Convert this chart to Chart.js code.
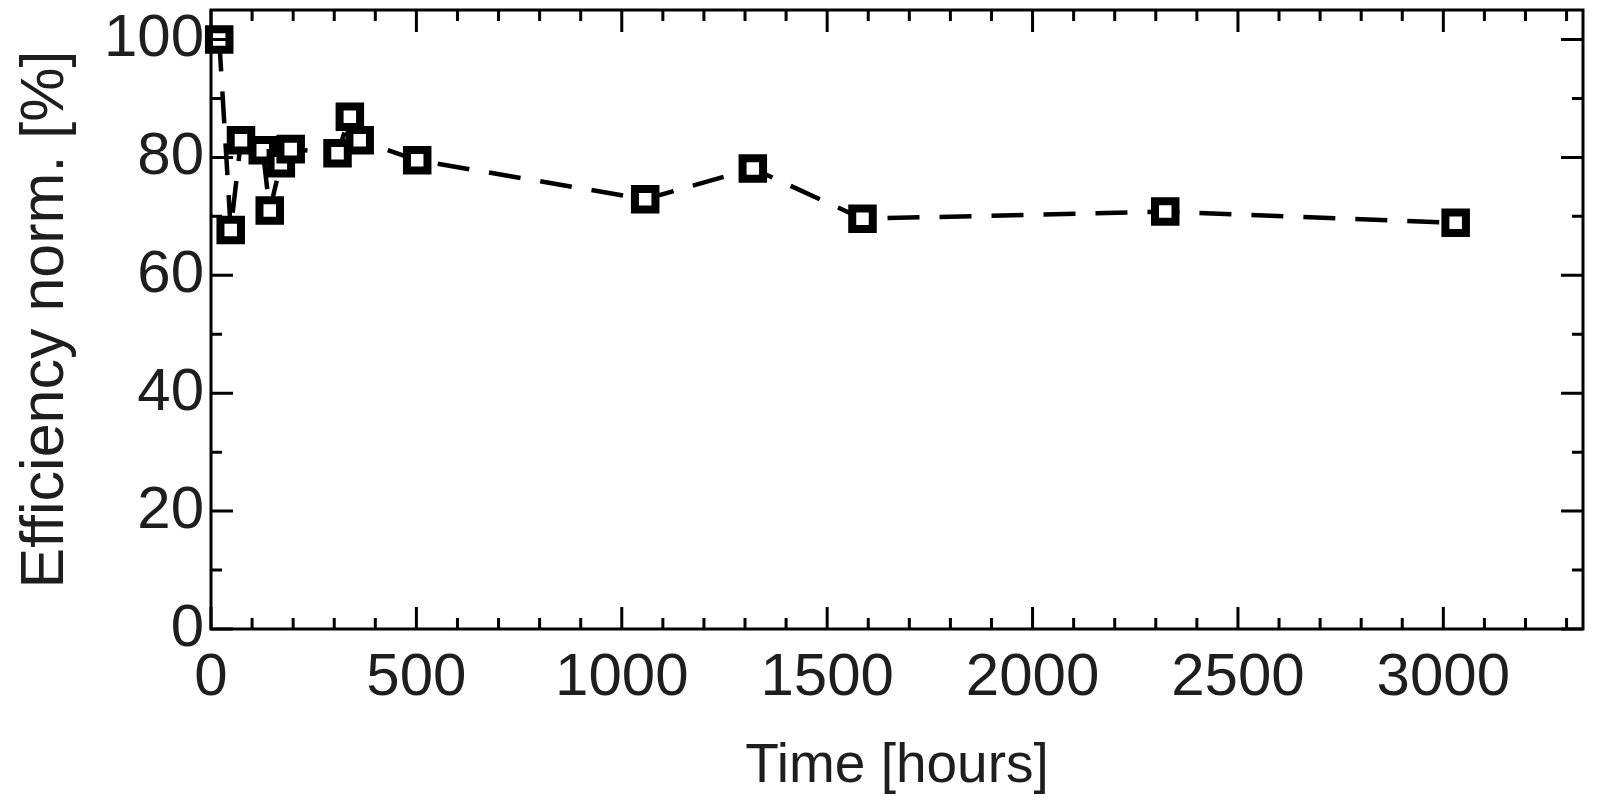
<!DOCTYPE html>
<html><head><meta charset="utf-8">
<script src="https://cdn.jsdelivr.net/npm/chart.js@4"></script>
<style>html,body{margin:0;padding:0;background:#fff}#wrap{width:1612px;height:800px}</style>
</head><body><div id="wrap"><canvas id="c" width="1612" height="800"></canvas></div>
<script>
const timeHours = [20, 48, 73, 126, 143, 170, 194, 308, 338, 362, 502, 1057, 1319, 1586, 2323, 3030];
const efficiency = [100, 67.7, 82.9, 81.2, 71, 79, 81.4, 80.7, 86.9, 82.9, 79.5, 72.9, 78.1, 69.6, 70.8, 68.9];
const xMajorTicks = [0, 500, 1000, 1500, 2000, 2500, 3000];
const yMajorTicks = [0, 20, 40, 60, 80, 100];
const xRange = [0, 3340];
const yRange = [0, 105];

const xMinorTicks = [];
for (let v = 100; v < xRange[1]; v += 100) if (v % 500) xMinorTicks.push(v);
const yMinorTicks = [10, 30, 50, 70, 90];

const FONT = 'Liberation Sans, Arial, sans-serif';
const TXT = '#1e1e1e';

const framePlugin = {
  id: 'frame',
  afterDatasetsDraw(chart) {
    const {ctx, chartArea: a, scales: {x, y}} = chart;
    ctx.save();
    ctx.strokeStyle = '#000';
    ctx.lineWidth = 3;
    ctx.lineCap = 'butt';
    ctx.beginPath();
    const tick = (vals, len) => {
      vals.forEach(v => {
        const px = x.getPixelForValue(v);
        ctx.moveTo(px, a.bottom); ctx.lineTo(px, a.bottom - len);
        ctx.moveTo(px, a.top); ctx.lineTo(px, a.top + len);
      });
    };
    const ytick = (vals, len) => {
      vals.forEach(v => {
        const py = y.getPixelForValue(v);
        ctx.moveTo(a.left, py); ctx.lineTo(a.left + len, py);
        ctx.moveTo(a.right, py); ctx.lineTo(a.right - len, py);
      });
    };
    tick(xMajorTicks, 22); tick(xMinorTicks, 11);
    ytick(yMajorTicks, 22); ytick(yMinorTicks, 11);
    ctx.stroke();
    ctx.strokeRect(a.left, a.top, a.right - a.left, a.bottom - a.top);
    ctx.restore();
  }
};

new Chart(document.getElementById('c'), {
  type: 'scatter',
  data: {
    datasets: [{
      data: timeHours.map((t, i) => ({x: t, y: efficiency[i]})),
      showLine: true,
      borderColor: '#000',
      borderWidth: 4.5,
      borderDash: [32, 20],
      pointStyle: 'rect',
      pointRadius: 14.5,
      pointBorderWidth: 8,
      pointBorderColor: '#000',
      pointBackgroundColor: '#fff',
      tension: 0,
      clip: false
    }]
  },
  options: {
    responsive: false,
    animation: false,
    events: [],
    layout: {autoPadding: false, padding: {top: 10, right: 29, left: 0, bottom: 0}},
    plugins: {legend: {display: false}, tooltip: {enabled: false}},
    scales: {
      x: {
        type: 'linear', min: xRange[0], max: xRange[1],
        afterBuildTicks: s => { s.ticks = xMajorTicks.map(v => ({value: v})); },
        afterFit: s => { s.height = 171; s.paddingLeft = 0; s.paddingRight = 0; },
        grid: {display: false, drawTicks: false},
        border: {display: false},
        ticks: {padding: 13, color: TXT, font: {family: FONT, size: 60}, maxRotation: 0, autoSkip: false,
                callback: v => String(v)},
        title: {display: true, text: 'Time [hours]', color: TXT, font: {family: FONT, size: 55}, padding: {top: 0, bottom: 0}}
      },
      y: {
        type: 'linear', min: yRange[0], max: yRange[1],
        afterBuildTicks: s => { s.ticks = yMajorTicks.map(v => ({value: v})); },
        afterFit: s => { s.width = 211; s.paddingTop = 0; s.paddingBottom = 0; },
        grid: {display: false, drawTicks: false},
        border: {display: false},
        ticks: {padding: 7, color: TXT, font: {family: FONT, size: 60}, autoSkip: false,
                callback: v => String(v)},
        title: {display: true, text: 'Efficiency norm. [%]', color: TXT, font: {family: FONT, size: 61}, padding: {top: 10, bottom: 0}}
      }
    }
  },
  plugins: [framePlugin]
});
</script></body></html>
